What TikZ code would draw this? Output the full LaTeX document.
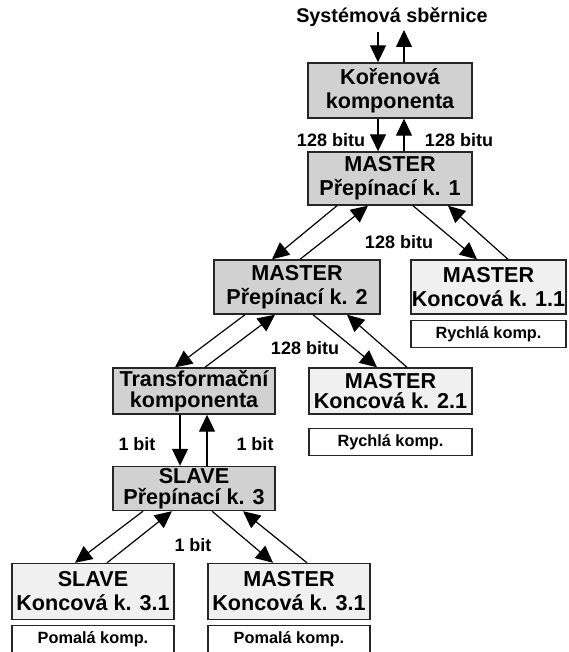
\documentclass[tikz,border=0pt]{standalone}
\usepackage{fontspec}
\setmainfont{Liberation Sans}
\usetikzlibrary{arrows.meta}

\begin{document}
\begin{tikzpicture}[x=1pt,y=-1pt,
  box/.style={draw=black!85, line width=1.4pt, align=center, inner sep=0pt,
    font=\fontsize{21.6}{24}\selectfont\bfseries},
  tight/.style={font=\fontsize{21.6}{20.5}\selectfont\bfseries},
  darkbox/.style={box, fill=black!18},
  lightbox/.style={box, fill=black!6},
  notebox/.style={draw=black!85, line width=1.4pt, fill=white, inner sep=0pt,
    minimum height=27pt, font=\fontsize{16.3}{18}\selectfont\bfseries},
  lbl/.style={inner sep=0pt, font=\fontsize{18}{20}\selectfont\bfseries},
  link/.style={line width=1.2pt, -{Triangle[width=16pt,length=17pt]}},
]
\useasboundingbox (0,0) rectangle (568,652);

% system bus
\node[inner sep=0pt, font=\fontsize{19.8}{22}\selectfont\bfseries] (bus) at (392,17) {Systémová sběrnice};
\coordinate (busin) at (378,32);
\coordinate (busout) at (404,30);

% components
\node[darkbox, minimum width=164pt, minimum height=55pt] (root) at (390,90.5) {Kořenová\\komponenta};
\node[darkbox, minimum width=164pt, minimum height=53pt] (m1) at (390,178.5) {MASTER\\Přepínací k. 1};
\node[darkbox, minimum width=166pt, minimum height=54pt] (m2) at (297,287) {MASTER\\Přepínací k. 2};
\node[lightbox, minimum width=155pt, minimum height=54pt] (k11) at (488.5,287) {MASTER\\Koncová k. 1.1};
\node[notebox, minimum width=155pt] (r11) at (488.5,334) {Rychlá komp.};
\node[darkbox, tight, minimum width=162pt, minimum height=46pt] (tr) at (194,391) {Transformační\\komponenta};
\node[lightbox, tight, minimum width=163pt, minimum height=46pt] (k21) at (390.5,391) {MASTER\\Koncová k. 2.1};
\node[notebox, minimum width=163pt] (r21) at (390.5,442) {Rychlá komp.};
\node[darkbox, tight, minimum width=162pt, minimum height=44pt] (s3) at (194,488.5) {SLAVE\\Přepínací k. 3};
\node[lightbox, minimum width=162pt, minimum height=56pt] (sk) at (93,591.5) {SLAVE\\Koncová k. 3.1};
\node[notebox, minimum width=162pt] (p1) at (93,639) {Pomalá komp.};
\node[lightbox, minimum width=162pt, minimum height=56pt] (mk) at (289,591.5) {MASTER\\Koncová k. 3.1};
\node[notebox, minimum width=162pt] (p2) at (289,639) {Pomalá komp.};

% bus widths
\node[lbl] (w1) at (331,140) {128 bitu};
\node[lbl] (w2) at (459,140) {128 bitu};
\node[lbl] (w3) at (399,242) {128 bitu};
\node[lbl] (w4) at (305,348) {128 bitu};
\node[lbl] (w5) at (137,444) {1 bit};
\node[lbl] (w6) at (255,444) {1 bit};
\node[lbl] (w7) at (193,545) {1 bit};

% links
\draw[link] (busin) -- ([xshift=-12pt]root.north);
\draw[link] ([xshift=14pt]root.north) -- (busout);

\draw[link] ([xshift=-12pt]root.south) -- ([xshift=-12pt]m1.north);
\draw[link] ([xshift=14pt]m1.north) -- ([xshift=14pt]root.south);

\draw[link] ([xshift=-53pt]m1.south) -- ([xshift=-25pt]m2.north);
\draw[link] ([xshift=3pt]m2.north) -- ([xshift=-22pt]m1.south);
\draw[link] ([xshift=23pt]m1.south) -- ([xshift=-11.5pt]k11.north);
\draw[link] ([xshift=19.5pt]k11.north) -- ([xshift=58pt]m1.south);

\draw[link] ([xshift=-52pt]m2.south) -- ([xshift=-19pt]tr.north);
\draw[link] ([xshift=11pt]tr.north) -- ([xshift=-22pt]m2.south);
\draw[link] ([xshift=16pt]m2.south) -- ([xshift=-13.5pt]k21.north);
\draw[link] ([xshift=16.5pt]k21.north) -- ([xshift=50pt]m2.south);

\draw[link] ([xshift=-14pt]tr.south) -- ([xshift=-14pt]s3.north);
\draw[link] ([xshift=13pt]s3.north) -- ([xshift=13pt]tr.south);

\draw[link] ([xshift=-51pt]s3.south) -- ([xshift=-18pt]sk.north);
\draw[link] ([xshift=14pt]sk.north) -- ([xshift=-22pt]s3.south);
\draw[link] ([xshift=18pt]s3.south) -- ([xshift=-16pt]mk.north);
\draw[link] ([xshift=18pt]mk.north) -- ([xshift=49pt]s3.south);
\end{tikzpicture}
\end{document}
